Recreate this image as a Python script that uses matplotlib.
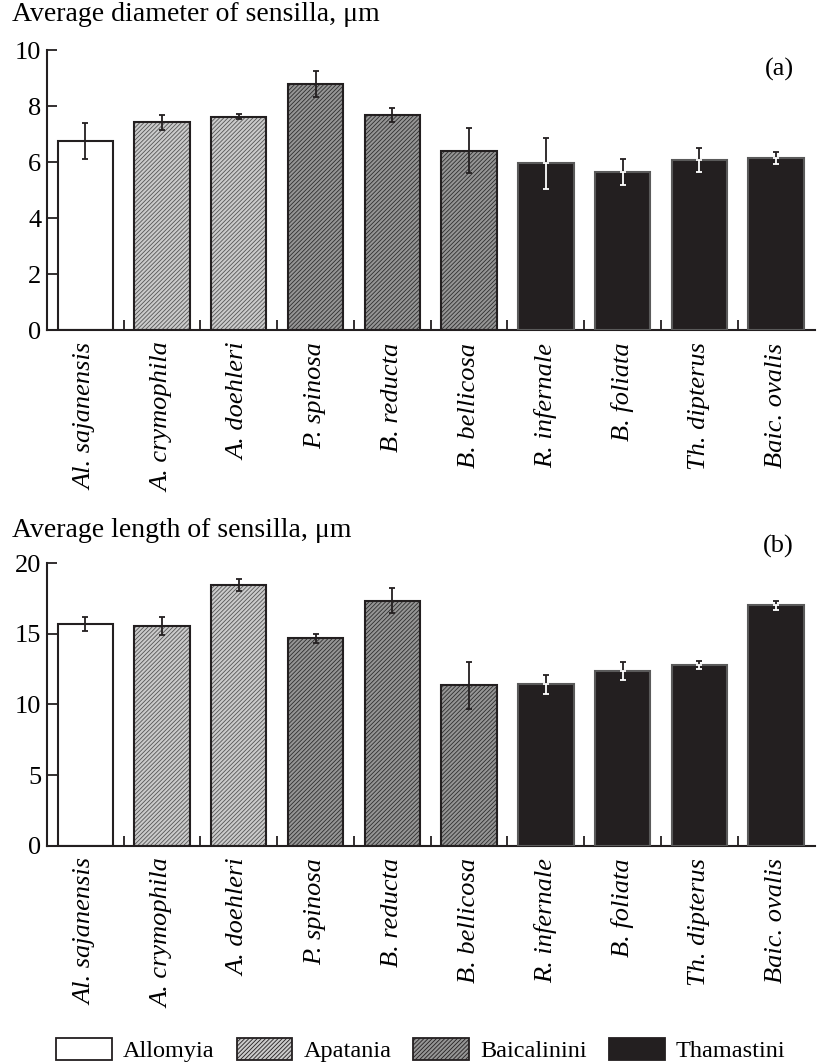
import matplotlib
matplotlib.use('Agg')
import matplotlib.pyplot as plt
import numpy as np
from matplotlib.patches import Patch

# === data ===
species = ['Al. sajanensis', 'A. crymophila', 'A. doehleri', 'P. spinosa', 'B. reducta',
           'B. bellicosa', 'R. infernale', 'B. foliata', 'Th. dipterus', 'Baic. ovalis']
groups = ['Allomyia', 'Apatania', 'Apatania', 'Baicalinini', 'Baicalinini',
          'Baicalinini', 'Thamastini', 'Thamastini', 'Thamastini', 'Thamastini']

diam = [6.76, 7.42, 7.62, 8.79, 7.68, 6.40, 5.95, 5.65, 6.07, 6.15]
diam_err = [0.64, 0.27, 0.08, 0.46, 0.24, 0.80, 0.92, 0.46, 0.44, 0.22]

length = [15.67, 15.58, 18.49, 14.68, 17.35, 11.35, 11.42, 12.34, 12.77, 17.02]
length_err = [0.50, 0.65, 0.42, 0.33, 0.90, 1.68, 0.70, 0.64, 0.28, 0.31]

legend_groups = ['Allomyia', 'Apatania', 'Baicalinini', 'Thamastini']

# === styles ===
style = {
    'Allomyia':    dict(face='white',   hatch=None,        hcol='white', edge='#231f20'),
    'Apatania':    dict(face='#cbcbcb', hatch='////////',  hcol='#555555', edge='#231f20'),
    'Baicalinini': dict(face='#959595', hatch='////////',  hcol='#2e2e2e', edge='#231f20'),
    'Thamastini':  dict(face='#231f20', hatch=None,        hcol='#231f20', edge='#5a5a5a'),
}

plt.rcParams['font.family'] = ['Liberation Serif', 'DejaVu Serif']
plt.rcParams['hatch.linewidth'] = 0.6
FS = 19


def draw_bars(ax, vals, errs):
    x = np.arange(len(vals))
    w = 0.72
    for i, (v, e, g) in enumerate(zip(vals, errs, groups)):
        s = style[g]
        ax.bar(x[i], v, w, color=s['face'], hatch=s['hatch'], edgecolor=s['hcol'],
               linewidth=0, zorder=2)
        ax.bar(x[i], v, w, fill=False, edgecolor=s['edge'], linewidth=1.5, zorder=3)
        if g == 'Thamastini':
            # black part above the bar, white part inside it
            ax.errorbar(x[i], v, yerr=[[0], [e]], fmt='none', ecolor='#231f20',
                        elinewidth=1.3, capsize=2, capthick=1.3, zorder=4)
            ax.errorbar(x[i], v, yerr=[[e], [0]], fmt='none', ecolor='white',
                        elinewidth=1.3, capsize=2, capthick=1.3, zorder=4)
        else:
            ax.errorbar(x[i], v, yerr=e, fmt='none', ecolor='#231f20',
                        elinewidth=1.3, capsize=2, capthick=1.3, zorder=4)
    ax.set_xlim(-0.5, len(vals) - 0.5)
    ax.set_xticks(x)
    ax.set_xticklabels(species, rotation=90, style='italic', fontsize=FS)
    ax.set_xticks(x[:-1] + 0.5, minor=True)
    ax.tick_params(axis='x', which='major', length=0, pad=9)
    ax.tick_params(axis='x', which='minor', direction='in', length=7, width=1.3, color='#231f20')
    ax.tick_params(axis='y', direction='in', length=7, width=1.3, pad=4, labelsize=FS,
                   color='#231f20')
    for sp in ['top', 'right']:
        ax.spines[sp].set_visible(False)
    for sp in ['left', 'bottom']:
        ax.spines[sp].set_linewidth(1.5)
        ax.spines[sp].set_color('#231f20')


fig = plt.figure(figsize=(8.2, 10.64), dpi=100)

ax1 = fig.add_axes([0.0573, 0.6898, 0.936, 0.2632])
draw_bars(ax1, diam, diam_err)
ax1.set_ylim(0, 10)
ax1.set_yticks([0, 2, 4, 6, 8, 10])

ax2 = fig.add_axes([0.0573, 0.2052, 0.936, 0.2654])
draw_bars(ax2, length, length_err)
ax2.set_ylim(0, 20)
ax2.set_yticks([0, 5, 10, 15, 20])

fig.text(0.0146, 0.998, 'Average diameter of sensilla, μm', fontsize=20, ha='left', va='top')
fig.text(0.0146, 0.513, 'Average length of sensilla, μm', fontsize=20, ha='left', va='top')
fig.text(0.968, 0.935, '(a)', fontsize=FS, ha='right', va='center')
fig.text(0.968, 0.486, '(b)', fontsize=FS, ha='right', va='center')

handles = []
for g in legend_groups:
    s = style[g]
    handles.append(Patch(facecolor=s['face'], hatch=s['hatch'], edgecolor='#231f20',
                         linewidth=1.3, label=g))
fig.legend(handles=handles, loc='center', bbox_to_anchor=(0.513, 0.013), ncol=4,
           frameon=False, fontsize=17.5, handlelength=2.3, handleheight=1.0,
           columnspacing=0.9, handletextpad=0.45, borderaxespad=0)

fig.savefig('out.png', dpi=100)
plt.close(fig)
